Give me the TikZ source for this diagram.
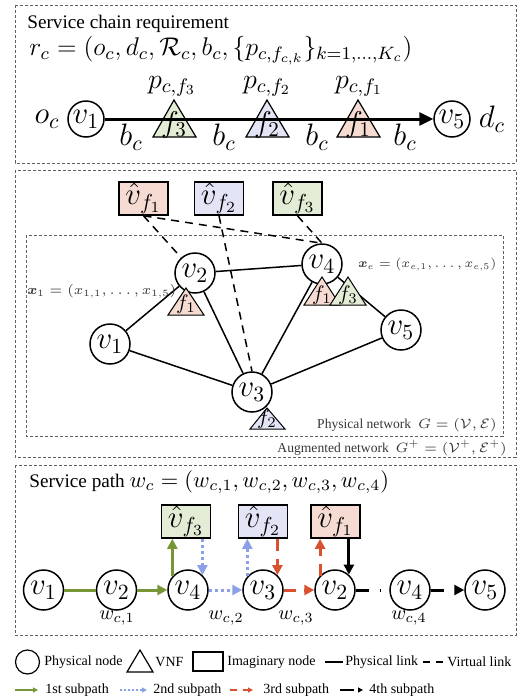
\documentclass[tikz,border=0pt]{standalone}
\usepackage{fix-cm}
\usepackage{amsmath,amssymb,bm}
\usepackage[no-math]{fontspec}
\setmainfont{Liberation Serif}
\usetikzlibrary{arrows.meta,calc}
\definecolor{gfill}{RGB}{227,236,212}
\definecolor{bfill}{RGB}{227,229,246}
\definecolor{rfill}{RGB}{246,219,211}
\definecolor{garr}{RGB}{118,150,56}
\definecolor{barr}{RGB}{140,160,232}
\definecolor{rarr}{RGB}{216,82,50}
\definecolor{boxgray}{RGB}{95,95,95}
\definecolor{labgray}{RGB}{55,55,55}
\newcommand{\fsz}[1]{\fontsize{#1}{#1}\selectfont}
\tikzset{
  secbox/.style={draw=boxgray, line width=0.5pt, dash pattern=on 1.5pt off 1pt},
  title/.style={anchor=west, inner sep=0pt, font=\fsz{9.6}},
  pn/.style={circle, draw, line width=0.75pt, fill=white, inner sep=0pt, minimum size=20pt, font=\fsz{15.5}},
  pnsmall/.style={pn, minimum size=18pt},
  imag/.style={rectangle, draw, line width=0.8pt, inner sep=0pt, minimum width=24.5pt, minimum height=16.5pt, font=\fsz{15.5}},
  tri/.style={draw, line width=0.6pt},
  trilab/.style={inner sep=0pt, font=\fsz{15}},
  trilabs/.style={inner sep=0pt, font=\fsz{10.5}},
  big/.style={inner sep=0pt, font=\fsz{15.5}},
  plink/.style={line width=0.75pt},
  vlink/.style={line width=0.75pt, dash pattern=on 4pt off 3pt},
  glab/.style={inner sep=0pt, text=labgray, font=\fsz{6.8}},
  arr/.style={-{Triangle[length=5pt,width=5pt]}},
  gpath/.style={draw=garr, line width=1.5pt},
  bpath/.style={draw=barr, line width=1.5pt, dash pattern=on 1.5pt off 1.5pt},
  rpath/.style={draw=rarr, line width=1.5pt, dash pattern=on 6pt off 4pt},
  kpath/.style={draw=black, line width=1.5pt},
  kdash/.style={draw=black, line width=1.5pt, dash pattern=on 6.5pt off 5.5pt},
  wlab/.style={inner sep=0pt, font=\fsz{10}},
  leg/.style={anchor=west, inner sep=0pt, font=\fsz{7}},
  larr/.style={-{Triangle[length=2.5pt,width=2.5pt]}, line width=0.6pt}
}
\begin{document}
\begin{tikzpicture}[x=0.5pt,y=-0.5pt]
\useasboundingbox (0,0) rectangle (523,697);

% ---------------- Section 1 ----------------
\draw[secbox] (15,5) rectangle (516,163);
\node[title] (t1) at (27,23.5) {Service chain requirement};
\node[anchor=west, inner sep=0pt, font=\fsz{12.8}] (rc) at (29,50.5)
  {$r_c=(o_c,d_c,\mathcal{R}_c,b_c,\{p_{c,f_{c,k}}\}_{k=1,\ldots,K_c})$};
\node[pnsmall] (a1) at (86,119) {$v_1$};
\node[pnsmall] (a5) at (452,119) {$v_5$};
\fill[gfill] (153,137) -- (174,100) -- (196,137) -- cycle;
\fill[bfill] (246,137) -- (267,100) -- (289,137) -- cycle;
\fill[rfill] (337,137) -- (358,100) -- (380,137) -- cycle;
\draw[line width=1.5pt, -{Triangle[length=7pt,width=6.5pt]}] (a1) -- (a5);
\draw[tri] (153,137) -- (174,100) -- (196,137) -- cycle;
\draw[tri] (246,137) -- (267,100) -- (289,137) -- cycle;
\draw[tri] (337,137) -- (358,100) -- (380,137) -- cycle;
\node[trilab] (s1f3) at (174,124.5) {$f_3$};
\node[trilab] (s1f2) at (267,124.5) {$f_2$};
\node[trilab] (s1f1) at (358,124.5) {$f_1$};
\node[inner sep=0pt, font=\fsz{14}] (p3) at (172,86) {$p_{c,f_3}$};
\node[inner sep=0pt, font=\fsz{14}] (p2) at (267,86) {$p_{c,f_2}$};
\node[inner sep=0pt, font=\fsz{14}] (p1) at (359,86) {$p_{c,f_1}$};
\node[big] (b1) at (131,137) {$b_c$};
\node[big] (b2) at (224,137) {$b_c$};
\node[big] (b3) at (317,137) {$b_c$};
\node[big] (b4) at (405,137) {$b_c$};
\node[big] (oc) at (47,119) {$o_c$};
\node[big] (dc) at (492,119) {$d_c$};

% ---------------- Section 2 ----------------
\draw[secbox] (15,170) rectangle (516,457);
\draw[secbox] (26,235) rectangle (503,436);
\node[imag, fill=rfill] (h1) at (143.5,198.5) {$\hat{v}_{f_1}$};
\node[imag, fill=bfill] (h2) at (219,198.5) {$\hat{v}_{f_2}$};
\node[imag, fill=gfill] (h3) at (297.5,198.5) {$\hat{v}_{f_3}$};
\node[pn] (n1) at (110,344) {$v_1$};
\node[pn] (n2) at (195,273) {$v_2$};
\node[pn] (n3) at (252,392) {$v_3$};
\node[pn] (n4) at (322,264) {$v_4$};
\node[pn] (n5) at (401,330) {$v_5$};
\draw[plink] (n1) -- (n2);
\draw[plink] (n1) -- (n3);
\draw[plink] (n2) -- (n3);
\draw[plink] (n2) -- (n4);
\draw[plink] (n3) -- (n4);
\draw[plink] (n3) -- (n5);
\draw[plink] (n4) -- (n5);
\draw[vlink] (h1.south) -- (n2);
\draw[vlink] (h1.south) -- (n4.north);
\draw[vlink] (h2.south) -- (n3.north);
\draw[vlink] (h3.south) -- (n4.north);
\filldraw[tri, fill=rfill, line width=0.5pt] (168,315) -- (186,288) -- (204,315) -- cycle;
\filldraw[tri, fill=rfill, line width=0.5pt] (304,305) -- (322,277) -- (340,305) -- cycle;
\filldraw[tri, fill=gfill, line width=0.5pt] (330,305) -- (348,277) -- (366,305) -- cycle;
\filldraw[tri, fill=bfill, line width=0.5pt] (250,429) -- (267,408) -- (285,429) -- cycle;
\node[trilabs] (g2f1) at (186,304) {$f_1$};
\node[trilabs] (g4f1) at (322,295) {$f_1$};
\node[trilabs] (g4f3) at (348,295) {$f_3$};
\node[trilabs] (g3f2) at (267,419) {$f_2$};
\node[glab, anchor=west] (x1) at (27,291) {$\bm{x}_1=(x_{1,1},\ldots,x_{1,5})$};
\node[glab, anchor=west, font=\fsz{6.3}] (xe) at (358,265) {$\bm{x}_e=(x_{e,1},\ldots,x_{e,5})$};
\node[glab, anchor=east] (pnet) at (497,425) {Physical network\ \ $G=(\mathcal{V},\mathcal{E})$};
\node[glab, anchor=east] (anet) at (507,448) {Augmented network\ \ $G^+=(\mathcal{V}^+,\mathcal{E}^+)$};

% ---------------- Section 3 ----------------
\draw[secbox] (15,465) rectangle (516,635);
\node[title] (t3) at (29,482) {Service path {\fsz{11.2}$w_c=(w_{c,1},w_{c,2},w_{c,3},w_{c,4})$}};
\node[imag, fill=gfill] (q3) at (186,521.5) {$\hat{v}_{f_3}$};
\node[imag, fill=bfill] (q2) at (263,521.5) {$\hat{v}_{f_2}$};
\node[imag, fill=rfill] (q1) at (335.5,521.5) {$\hat{v}_{f_1}$};
\node[pn] (m1) at (43.5,590) {$v_1$};
\node[pn] (m2) at (116.5,590) {$v_2$};
\node[pn] (m3) at (188,590) {$v_4$};
\node[pn] (m4) at (263,590) {$v_3$};
\node[pn] (m5) at (335,590) {$v_2$};
\node[pn] (m6) at (410,590) {$v_4$};
\node[pn] (m7) at (485,590) {$v_5$};
\draw[gpath] (m1) -- (m2);
\draw[gpath, arr] (m2) -- (m3);
\draw[gpath, arr] (m3.139) -- (m3.139 |- q3.south);
\draw[bpath, arr] (m3.46 |- q3.south) -- (m3.46);
\draw[bpath, arr] (m3) -- (m4);
\draw[bpath, arr] (m4.139) -- (m4.139 |- q2.south);
\draw[rpath, arr] (m4.46 |- q2.south) -- (m4.46);
\draw[rpath, arr] (m4) -- (m5);
\draw[rpath, arr] (m5.136) -- (m5.136 |- q1.south);
\draw[kpath, arr] (m5.48 |- q1.south) -- (m5.48);
\draw[kdash, shorten >=4pt] (m5) -- (m6);
\draw[kdash, arr] (m6) -- (m7);
\node[wlab] (w1) at (117,618) {$w_{c,1}$};
\node[wlab] (w2) at (226,618) {$w_{c,2}$};
\node[wlab] (w3) at (296,618) {$w_{c,3}$};
\node[wlab] (w4) at (409,618) {$w_{c,4}$};

% ---------------- Legend ----------------
\node[circle, draw, line width=0.6pt, minimum size=12pt, inner sep=0pt] (lc) at (27.5,662) {};
\node[leg] (lt1) at (44,662) {Physical node};
\draw[line width=0.6pt] (127,672) -- (140,650) -- (153,672) -- cycle;
\node[leg] (lt2) at (155,662) {VNF};
\node[rectangle, draw, line width=0.6pt, minimum width=15pt, minimum height=9.5pt, inner sep=0pt] (lr) at (208,661.5) {};
\node[leg] (lt3) at (227,662) {Imaginary node};
\coordinate (pl1) at (325,662);
\coordinate (pl2) at (343,662);
\draw[line width=0.7pt] (pl1) -- (pl2);
\node[leg] (lt4) at (345,662) {Physical link};
\coordinate (vl1) at (423,662);
\coordinate (vl2) at (443,662);
\draw[line width=0.7pt, dash pattern=on 3.5pt off 3pt] (vl1) -- (vl2);
\node[leg] (lt5) at (447,662) {Virtual link};
\coordinate (la1) at (15,690);
\coordinate (la2) at (38,690);
\draw[larr, draw=garr, fill=garr] (la1) -- (la2);
\node[leg] (lt6) at (45,690) {1st subpath};
\coordinate (lb1) at (120,690);
\coordinate (lb2) at (147,690);
\draw[larr, draw=barr, fill=barr, dash pattern=on 1pt off 1pt] (lb1) -- (lb2);
\node[leg] (lt7) at (153,690) {2nd subpath};
\coordinate (lr1) at (230,690);
\coordinate (lr2) at (253,690);
\draw[larr, draw=rarr, fill=rarr, dash pattern=on 3.5pt off 3pt] (lr1) -- (lr2);
\node[leg] (lt8) at (263,690) {3rd subpath};
\coordinate (lk1) at (340,690);
\coordinate (lk2) at (363,690);
\draw[larr, dash pattern=on 7pt off 2pt] (lk1) -- (lk2);
\node[leg] (lt9) at (369,690) {4th subpath};
\end{tikzpicture}
\end{document}
